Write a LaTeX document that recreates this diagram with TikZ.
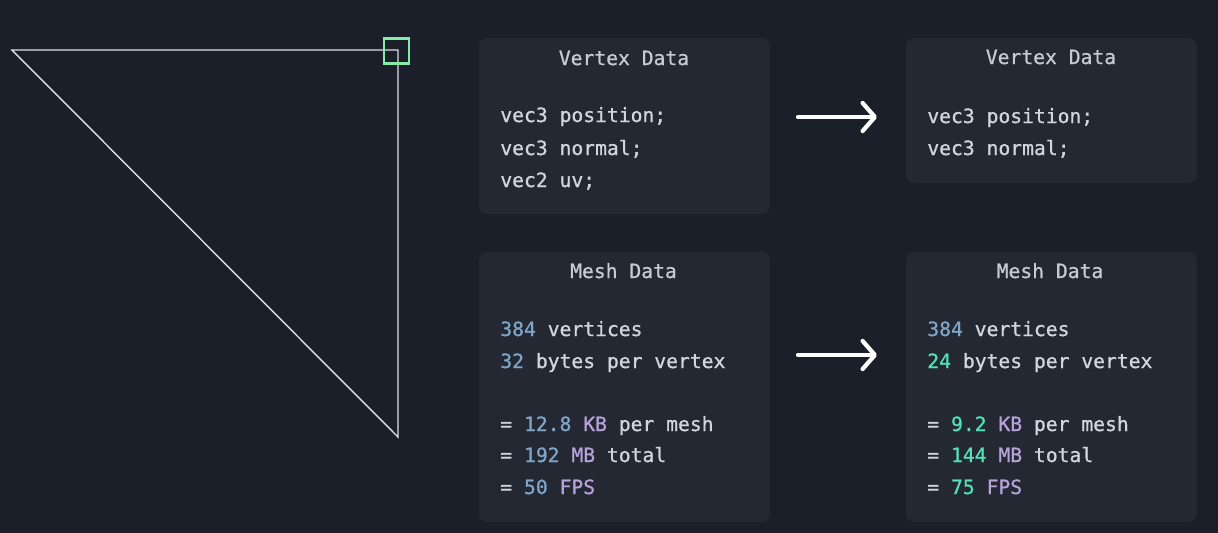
\documentclass[tikz,border=0pt]{standalone}
\usepackage{fontspec}
\setmonofont{DejaVu Sans Mono}[AutoFakeBold=0.9]
\usetikzlibrary{arrows.meta}

\definecolor{bgnavy}{HTML}{1B1F2A}
\definecolor{panelgray}{HTML}{232833}
\definecolor{textgray}{HTML}{D2D6DC}
\definecolor{titlegray}{HTML}{C5CBD4}
\definecolor{numblue}{HTML}{7FA6C8}
\definecolor{unitpurple}{HTML}{B7A2DA}
\definecolor{numgreen}{HTML}{52E3B5}
\definecolor{edgewhite}{HTML}{DCE0E6}
\definecolor{markgreen}{HTML}{86EBA6}

\newcommand{\bluenum}[1]{\textcolor{numblue}{#1}}
\newcommand{\greennum}[1]{\textcolor{numgreen}{#1}}
\newcommand{\unitc}[1]{\textcolor{unitpurple}{#1}}

\begin{document}
\begin{tikzpicture}
    [x=0.02cm, y=-0.02cm,
    panel/.style={rectangle, rounded corners=4.5pt, fill=panelgray, inner sep=0pt, minimum width=5.82cm},
    paneltitle/.style={anchor=base, inner sep=0pt, text=titlegray, font=\ttfamily\bfseries\fontsize{11.2pt}{13pt}\selectfont},
    codeline/.style={anchor=base west, inner sep=0pt, text=textgray, font=\ttfamily\bfseries\fontsize{11.2pt}{13pt}\selectfont},
    edge/.style={draw=edgewhite, line width=0.8pt, line join=miter},
    selbox/.style={rectangle, draw=markgreen, line width=1.2pt, minimum size=0.5cm, inner sep=0pt},
    bigarrow/.style={draw=white, line width=2.4pt, line cap=round,
        -{Straight Barb[length=7pt, width=16pt, round]}}
    ]
    % background
    \useasboundingbox (0,0) rectangle (1218,532);
    \fill[bgnavy] (-10,-10) rectangle (1228,542);

    % triangle
    \coordinate (ta) at (12,50);
    \coordinate (tb) at (398,50);
    \coordinate (tc) at (398,437);
    \draw[edge] (ta) -- (tb) -- (tc) -- cycle;
    \node (sel) [selbox] at (396.5,51) {};

    % panels
    \node (vdl) [panel, minimum height=3.52cm] at (624.5,126) {};
    \node (vdr) [panel, minimum height=2.9cm] at (1051.5,110.5) {};
    \node (mdl) [panel, minimum height=5.4cm] at (624.5,387) {};
    \node (mdr) [panel, minimum height=5.4cm] at (1051.5,387) {};

    % vertex data, before
    \node (vdltitle) [paneltitle] at (624,65) {Vertex Data};
    \node (vdl1) [codeline] at (500,122) {vec3 position;};
    \node (vdl2) [codeline] at (500,155) {vec3 normal;};
    \node (vdl3) [codeline] at (500,187) {vec2 uv;};

    % vertex data, after
    \node (vdrtitle) [paneltitle] at (1051,64) {Vertex Data};
    \node (vdr1) [codeline] at (927,123) {vec3 position;};
    \node (vdr2) [codeline] at (927,155) {vec3 normal;};

    % mesh data, before
    \node (mdltitle) [paneltitle] at (623.5,278) {Mesh Data};
    \node (mdl1) [codeline] at (500,336) {\bluenum{384} vertices};
    \node (mdl2) [codeline] at (500,368) {\bluenum{32} bytes per vertex};
    \node (mdl3) [codeline] at (500,431) {= \bluenum{12.8} \unitc{KB} per mesh};
    \node (mdl4) [codeline] at (500,462) {= \bluenum{192} \unitc{MB} total};
    \node (mdl5) [codeline] at (500,494) {= \bluenum{50} \unitc{FPS}};

    % mesh data, after
    \node (mdrtitle) [paneltitle] at (1050,278) {Mesh Data};
    \node (mdr1) [codeline] at (927,336) {\bluenum{384} vertices};
    \node (mdr2) [codeline] at (927,368) {\greennum{24} bytes per vertex};
    \node (mdr3) [codeline] at (927,431) {= \greennum{9.2} \unitc{KB} per mesh};
    \node (mdr4) [codeline] at (927,462) {= \greennum{144} \unitc{MB} total};
    \node (mdr5) [codeline] at (927,494) {= \greennum{75} \unitc{FPS}};

    % arrows
    \coordinate (a1s) at (798,117);
    \coordinate (a1e) at (877,117);
    \coordinate (a2s) at (798,355);
    \coordinate (a2e) at (877,355);
    \draw[bigarrow] (a1s) -- (a1e);
    \draw[bigarrow] (a2s) -- (a2e);
\end{tikzpicture}
\end{document}
